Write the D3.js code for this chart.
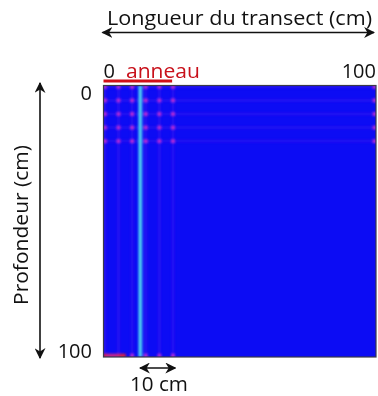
<!DOCTYPE html>
<html><head><meta charset="utf-8">
<script src="https://cdn.jsdelivr.net/npm/d3@7"></script>
<style>body{margin:0;background:#fff}svg{display:block}text{font-family:"Open Sans",sans-serif;fill:#111}</style>
</head><body><svg id="c" width="378" height="396"></svg>
<script>
// ---- data ----
const cellCount = 100;                 // 1 cm cells along both axes
const xTicks = ["0", "100"];
const yTicks = ["0", "100"];
const sampleCols = [0, 5, 10, 15, 20, 25];      // faint vertical sampling lines (cm)
const sampleRows = [0, 5, 10, 15, 20];          // faint horizontal sampling lines (cm)
const dotCols = [0, 5, 10, 15, 20, 25, 99];     // dots on sampling rows
const bottomDotCols = [10, 15, 20, 25];         // dots on last row
const bottomRow = 99;
const hotCols = [0, 1, 2, 3, 4, 5, 6, 7];       // red cells on last row
const hotValues = [0.95, 0.8, 0.75, 0.75, 0.75, 0.8, 0.9, 0.95];
const rootCol = 13;                             // cyan column
const lineValue = 0.2, dotValue = 0.55;
const ringRange = [0, 25];                      // "anneau"
const scaleBarCm = 10;

// ---- scales ----
const svg = d3.select("#c");
const cells = d3.range(cellCount);
const x = d3.scaleBand().domain(cells).range([103.5, 376]);
const y = d3.scaleBand().domain(cells).range([85.5, 357]);
const xl = d3.scaleLinear().domain([0, 100]).range([103.5, 376]);
const yl = d3.scaleLinear().domain([0, 100]).range([85.5, 357]);
const color = d3.scaleLinear().domain([0, 0.5, 1]).range(["#0c0cf4", "#b82ee8", "#e0202a"]);

const defs = svg.append("defs");
defs.append("clipPath").attr("id", "clip").append("rect")
  .attr("x", 103.5).attr("y", 85.5).attr("width", 272.5).attr("height", 271.5);
defs.append("filter").attr("id", "blur").attr("x", "-5%").attr("y", "-5%").attr("width", "110%").attr("height", "110%")
  .append("feGaussianBlur").attr("stdDeviation", 0.9);
const mk = defs.append("marker").attr("id", "ah").attr("viewBox", "0 0 10 10")
  .attr("refX", 9).attr("refY", 5).attr("markerWidth", 11).attr("markerHeight", 11)
  .attr("markerUnits", "userSpaceOnUse").attr("orient", "auto-start-reverse");
mk.append("path").attr("d", "M0,0 L10,5 L0,10 L3,5 Z").attr("fill", "#111");

// ---- heatmap ----
const hm = svg.append("g").attr("clip-path", "url(#clip)");
hm.append("rect").attr("x", 103.5).attr("y", 85.5).attr("width", 272.5).attr("height", 271.5).attr("fill", color(0));
const blurG = hm.append("g").attr("filter", "url(#blur)");
blurG.selectAll(".vl").data(sampleCols).join("rect")
  .attr("x", d => x(d)).attr("y", y(0)).attr("width", x.bandwidth()).attr("height", yl(100) - yl(0))
  .attr("fill", color(lineValue)).attr("opacity", 0.4);
blurG.selectAll(".hl").data(sampleRows).join("rect")
  .attr("x", x(0)).attr("y", d => y(d)).attr("width", xl(100) - xl(0)).attr("height", y.bandwidth())
  .attr("fill", color(lineValue)).attr("opacity", 0.35);
const dots = [];
sampleRows.forEach(r => dotCols.forEach(c => dots.push({r, c, v: dotValue})));
bottomDotCols.forEach(c => dots.push({r: bottomRow, c, v: dotValue}));
hotCols.forEach((c, i) => dots.push({r: bottomRow, c, v: hotValues[i]}));
blurG.selectAll(".dot").data(dots).join("rect")
  .attr("x", d => x(d.c) - 0.5).attr("y", d => y(d.r) - 0.5)
  .attr("width", x.bandwidth() + 1).attr("height", y.bandwidth() + 1)
  .attr("fill", d => color(d.v));
blurG.append("rect").attr("x", x(rootCol) - 0.8).attr("y", y(0)).attr("width", x.bandwidth() + 1.6)
  .attr("height", yl(100) - yl(0)).attr("fill", "#2f8ef0");
blurG.append("rect").attr("x", x(rootCol) + 0.2).attr("y", y(0)).attr("width", x.bandwidth() - 0.4)
  .attr("height", yl(100) - yl(0)).attr("fill", "#55d6f2");
svg.append("rect").attr("x", 103.5).attr("y", 85.5).attr("width", 272.5).attr("height", 271.5)
  .attr("fill", "none").attr("stroke", "#3a3a4a").attr("stroke-width", 1.2);

// ---- annotations ----
svg.append("text").attr("x", 107).attr("y", 25).attr("font-size", 20)
  .attr("textLength", 265).attr("lengthAdjust", "spacingAndGlyphs").text("Longueur du transect (cm)");
svg.append("line").attr("x1", xl(0) - 1).attr("x2", xl(100) - 2).attr("y1", 32.5).attr("y2", 32.5)
  .attr("stroke", "#111").attr("stroke-width", 1.6)
  .attr("marker-start", "url(#ah)").attr("marker-end", "url(#ah)");

svg.append("text").attr("x", xl(0)).attr("y", 78).attr("font-size", 20).text(xTicks[0]);
svg.append("text").attr("x", xl(100)).attr("y", 78).attr("font-size", 20).attr("text-anchor", "end").text(xTicks[1]);
svg.append("text").attr("x", 126).attr("y", 78).attr("font-size", 20)
  .style("fill", "#c8101a").attr("textLength", 74).attr("lengthAdjust", "spacingAndGlyphs").text("anneau");
svg.append("rect").attr("x", xl(ringRange[0])).attr("y", 79.5).attr("width", xl(ringRange[1]) - xl(ringRange[0]) + 0.5)
  .attr("height", 3).attr("fill", "#d01018");

svg.append("text").attr("x", 92).attr("y", 99.5).attr("font-size", 20).attr("text-anchor", "end").text(yTicks[0]);
svg.append("text").attr("x", 92).attr("y", 357.5).attr("font-size", 20).attr("text-anchor", "end").text(yTicks[1]);
svg.append("line").attr("x1", 40).attr("x2", 40).attr("y1", 83).attr("y2", 358)
  .attr("stroke", "#111").attr("stroke-width", 1.6)
  .attr("marker-start", "url(#ah)").attr("marker-end", "url(#ah)");
svg.append("text").attr("transform", "translate(28,225) rotate(-90)").attr("text-anchor", "middle")
  .attr("font-size", 20).attr("textLength", 160).attr("lengthAdjust", "spacingAndGlyphs").text("Profondeur (cm)");

// scale bar
svg.append("line").attr("x1", 140).attr("x2", 140 + (xl(scaleBarCm) - xl(0)) + 8).attr("y1", 368).attr("y2", 368)
  .attr("stroke", "#111").attr("stroke-width", 1.6)
  .attr("marker-start", "url(#ah)").attr("marker-end", "url(#ah)");
svg.append("text").attr("x", 159).attr("y", 391).attr("font-size", 20).attr("text-anchor", "middle")
  .attr("textLength", 58).attr("lengthAdjust", "spacingAndGlyphs").text(scaleBarCm + " cm");
</script></body></html>
